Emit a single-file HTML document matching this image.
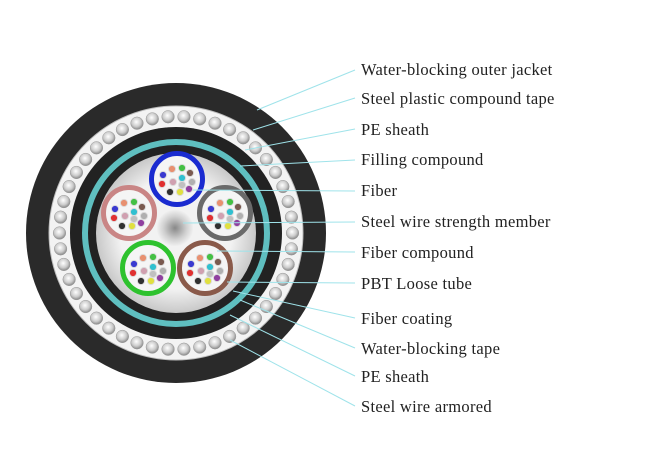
<!DOCTYPE html>
<html><head><meta charset="utf-8"><style>
html,body{margin:0;padding:0;background:#fff;width:650px;height:464px;overflow:hidden}
svg{display:block}
text{font-family:"Liberation Serif",serif;font-size:16.5px;letter-spacing:0.3px;fill:#222}
</style></head><body>
<svg id="s" width="650" height="464" viewBox="0 0 650 464">
<defs>
<radialGradient id="ball" cx="45%" cy="40%" r="60%"><stop offset="0" stop-color="#fff"/><stop offset="0.6" stop-color="#ccc"/><stop offset="1" stop-color="#888"/></radialGradient>
<radialGradient id="core" cx="50%" cy="50%" r="50%"><stop offset="0" stop-color="#888"/><stop offset="0.6" stop-color="#d0d0d0"/><stop offset="1" stop-color="#f4f4f4"/></radialGradient>
<radialGradient id="fill" cx="50%" cy="50%" r="50%"><stop offset="0.7" stop-color="#f2f2f2"/><stop offset="1" stop-color="#c8c8c8"/></radialGradient>
</defs>
<circle cx="176" cy="233" r="150" fill="#2a2a2a"/>
<circle cx="176" cy="233" r="127" fill="#f3f3f3"/>
<circle cx="176" cy="233" r="127" fill="none" stroke="#bbb" stroke-width="1"/>
<g id="balls"></g>
<circle cx="176" cy="233" r="106" fill="#222"/>
<circle cx="176" cy="233" r="91" fill="none" stroke="#5fbfc0" stroke-width="6"/>
<circle cx="176" cy="233" r="80" fill="url(#fill)"/>
<g id="tubes"></g>
<circle cx="175" cy="228" r="19" fill="url(#core)"/>
<g id="lines" stroke="#9fe3ea" stroke-width="1" fill="none"></g>
<text x="361" y="75">Water-blocking outer jacket</text>
<text x="361" y="104">Steel plastic compound tape</text>
<text x="361" y="135">PE sheath</text>
<text x="361" y="165">Filling compound</text>
<text x="361" y="196">Fiber</text>
<text x="361" y="227">Steel wire strength member</text>
<text x="361" y="258">Fiber compound</text>
<text x="361" y="289">PBT Loose tube</text>
<text x="361" y="324">Fiber coating</text>
<text x="361" y="354">Water-blocking tape</text>
<text x="361" y="382">PE sheath</text>
<text x="361" y="412">Steel wire armored</text>
</svg>
<script>
var NS="http://www.w3.org/2000/svg";
function el(p,t,a){var e=document.createElementNS(NS,t);for(var k in a)e.setAttribute(k,a[k]);p.appendChild(e);return e;}
var b=document.getElementById("balls");
for(var i=0;i<46;i++){var a=i/46*2*Math.PI;el(b,"circle",{cx:176+116.5*Math.cos(a),cy:233+116.5*Math.sin(a),r:6.3,fill:"url(#ball)",stroke:"#999","stroke-width":0.5});}
var T=document.getElementById("tubes");
var tubes=[[177,179,"#1a2bd0"],[129,213,"#c98585"],[225,213,"#6a6a6a"],[148,268,"#2ec22e"],[205,268,"#8a5a4a"]];
var fc=["#3a3ad0","#e89070","#44c044","#7a5a50","#b0b0b0","#d0a0b0","#e03030","#303030","#e0e040","#9040a0","#30c0d0","#c0c0c0"];
tubes.forEach(function(t){
 el(T,"circle",{cx:t[0],cy:t[1],r:25.5,fill:"#f5f5f5",stroke:t[2],"stroke-width":5});
 var pos=[[-14,-4],[-5,-10],[5,-11],[13,-6],[15,3],[-4,3],[-15,5],[-7,13],[3,13],[12,10],[5,-1],[5,6]];
 pos.forEach(function(p,j){el(T,"circle",{cx:t[0]+p[0],cy:t[1]+p[1],r:3.6,fill:fc[j],stroke:"#ddd","stroke-width":1});});
});
var L=document.getElementById("lines");
var ln=[[257,110,70],[253,130,98],[245,150,129],[240,166,160],[193,190,191],[183,223,222],[217,251,252],[227,282,283],[233,291,318],[240,300,348],[230,315,376],[230,340,406]];
ln.forEach(function(l){el(L,"line",{x1:l[0],y1:l[1],x2:355,y2:l[2]});});
</script>
</body></html>
